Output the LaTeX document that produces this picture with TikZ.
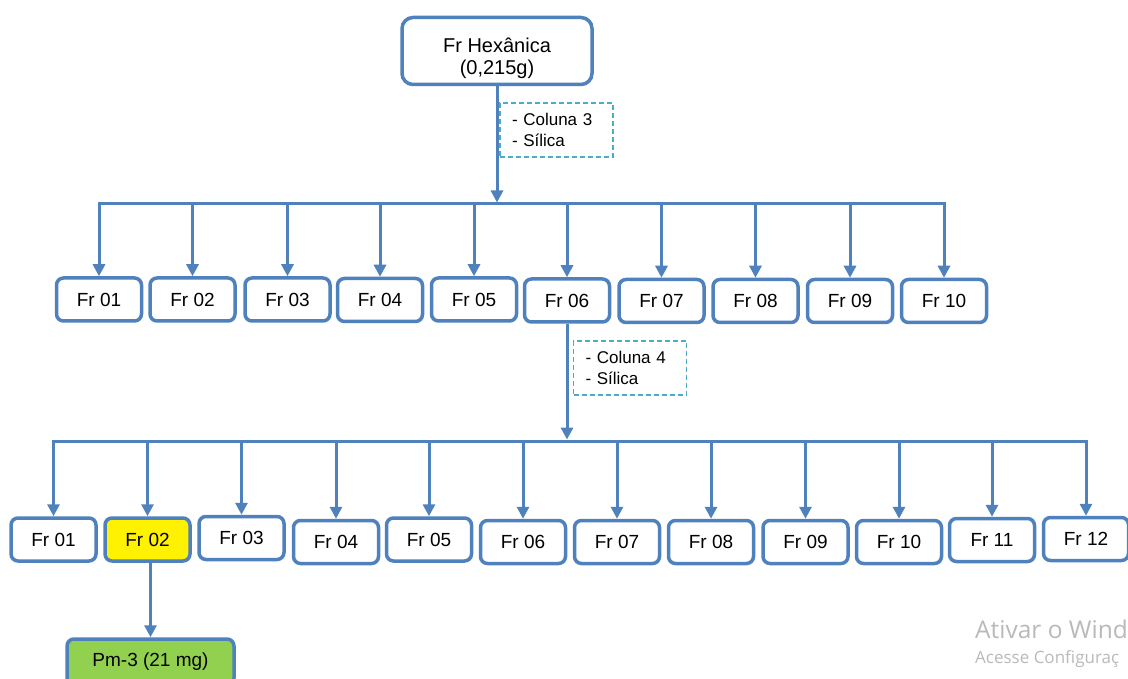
\documentclass[tikz,border=0pt]{standalone}
\usepackage{fontspec}
\setmainfont{Liberation Sans}
\newfontfamily\wmfont{Open Sans}
\usetikzlibrary{arrows.meta}
\definecolor{lineblue}{RGB}{79,129,189}
\definecolor{noteblue}{RGB}{75,172,198}
\definecolor{pmgreen}{RGB}{146,208,80}
\definecolor{wmgray}{RGB}{185,185,185}
\tikzset{
  frbox/.style={draw=lineblue, line width=3.5pt, rounded corners=7pt, fill=white,
    minimum width=85pt, minimum height=43pt, inner sep=0pt,
    font=\fontsize{19}{21}\selectfont},
  conn/.style={draw=lineblue, line width=3pt},
  arr/.style={conn, -{Triangle[length=12pt,width=12pt]}},
  note/.style={draw=noteblue, dashed, dash pattern=on 5pt off 3pt, line width=1.4pt,
    text width=89pt, inner xsep=12pt, inner ysep=0pt, minimum height=54pt, align=left,
    font=\fontsize{17}{21}\selectfont},
  wm/.style={text=wmgray, inner sep=0pt, anchor=base west}
}
\begin{document}
\begin{tikzpicture}[x=1pt, y=-1pt]
\useasboundingbox (0,0) rectangle (1128,679);
\clip (0,0) rectangle (1128,679);

% top node
\node[frbox, minimum width=190pt, minimum height=67pt, rounded corners=11pt,
      align=center, font=\fontsize{20}{23}\selectfont] (top) at (497,51)
  {\raisebox{-4pt}[\dimexpr\height+4pt\relax][\dimexpr\depth-4pt\relax]{\begin{tabular}{@{}c@{}}Fr Hexânica\\[-1pt](0,215g)\end{tabular}}};
\node[note] (n1) at (556.5,130) {- Coluna 3\\- Sílica};

\coordinate (b1) at (0,204);
\coordinate (b2) at (0,441);

% row 1
\foreach \i/\x/\y in {01/99/299.5, 02/192.5/299.5, 03/287.5/299.5, 04/380/300,
  05/474/299.5, 06/567/300.5, 07/661.5/301, 08/755.5/301, 09/850/301, 10/944/301}{
  \node[frbox] (a\i) at (\x,\y) {Fr \i};
}
\draw[conn, line cap=rect] (a01 |- b1) -- (a10 |- b1);
\draw[arr, shorten >=1.5pt] (top.south) -- (top.south |- b1);
\foreach \i in {01,02,03,04,05,06,07,08,09,10}{
  \draw[arr] (a\i |- b1) -- (a\i.north);
}

% second separation
\node[note] (n2) at (630,368) {- Coluna 4\\- Sílica};

\foreach \i/\x/\y in {01/53.5/539.5, 03/241.5/538, 04/336/542,
  05/429/539.5, 06/523/542, 07/617/542, 08/711/542, 09/805.5/542, 10/899/542,
  11/992/540, 12/1086/539}{
  \node[frbox] (c\i) at (\x,\y) {Fr \i};
}
\node[frbox, fill=yellow] (c02) at (147.5,539.5) {Fr 02};

\draw[conn, line cap=rect] (c01 |- b2) -- (c12 |- b2);
\draw[arr, shorten >=1.5pt] (a06.south) -- (a06.south |- b2);
\foreach \i in {01,02,03,04,05,06,07,08,09,10,11,12}{
  \draw[arr] (c\i |- b2) -- (c\i.north);
}

% Pm-3
\node[frbox, fill=pmgreen, minimum width=167pt, minimum height=46pt] (pm) at (150.5,662) {Pm-3 (21 mg)};
\draw[arr] (c02.south -| pm.north) -- (pm.north);

% watermark
\node[wm, font=\wmfont\fontsize{24.5}{26}\selectfont] (w1) at (975,638) {Ativar o Wind};
\node[wm, font=\wmfont\fontsize{17}{19}\selectfont] (w2) at (975,663) {Acesse Configuraç};
\end{tikzpicture}
\end{document}
